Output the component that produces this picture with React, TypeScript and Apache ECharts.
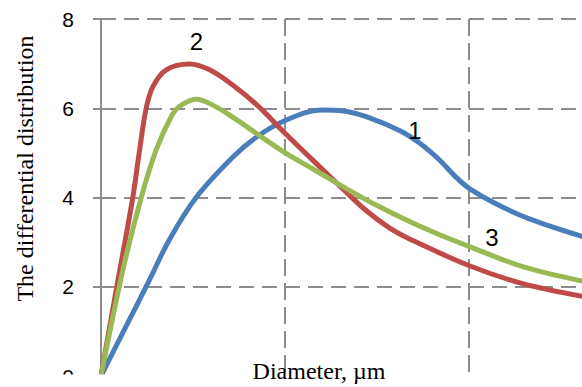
import React, { useEffect, useRef } from "react";
import * as echarts from "echarts";

// Diameter (arbitrary axis units; vertical grid lines every 10) and differential distribution
const diameter1 = [0, 1.3, 2.6, 3.73, 5.18, 7.17, 8.45, 9.99, 11.99, 13.2, 14.44, 16.25, 17.34, 18.43, 19.34, 20.06, 21.5, 23.33, 26.4];
const distribution1 = [0, 1.06, 2.12, 3.06, 4.0, 4.9, 5.35, 5.72, 5.96, 5.94, 5.81, 5.5, 5.22, 4.84, 4.45, 4.2, 3.86, 3.52, 3.1];

const diameter2 = [0, 0.86, 1.73, 2.1, 2.46, 2.82, 3.55, 4.82, 5.91, 7.17, 8.63, 9.99, 11.7, 13.2, 14.4, 15.7, 16.8, 20.06, 22.96, 26.4];
const distribution2 = [0, 2.0, 4.0, 5.06, 6.0, 6.48, 6.86, 6.99, 6.86, 6.52, 6.02, 5.45, 4.77, 4.18, 3.72, 3.32, 3.07, 2.47, 2.07, 1.77];

const diameter3 = [0, 1.19, 2.19, 3.0, 3.82, 4.27, 5.18, 6.09, 7.17, 8.45, 9.99, 11.7, 13.35, 14.98, 16.8, 18.4, 20.06, 22.96, 26.4];
const distribution3 = [0, 2.37, 4.0, 5.06, 5.81, 6.04, 6.2, 6.07, 5.8, 5.44, 5.01, 4.6, 4.2, 3.83, 3.46, 3.17, 2.9, 2.45, 2.11];

const yTicks = [0, 2, 4, 6, 8];
const seriesNames = ["1", "2", "3"];
const seriesColors = ["#4a7ebb", "#be4b48", "#98b954"];

const GRAY = "#8c8c8c";

export default function App() {
  const ref = useRef<HTMLDivElement>(null);
  useEffect(() => {
    const chart = echarts.init(ref.current!, null, { renderer: "svg" });
    const pairs = (xs: number[], ys: number[]) => xs.map((x, i) => [x, ys[i]]);
    const data = [pairs(diameter1, distribution1), pairs(diameter2, distribution2), pairs(diameter3, distribution3)];
    chart.setOption({
      animation: false,
      backgroundColor: "#ffffff",
      grid: { left: 101, top: 19, height: 357, width: 551, outerBoundsMode: "none" },
      xAxis: {
        type: "value",
        min: 0,
        max: 30,
        interval: 10,
        axisLine: { show: false },
        axisTick: { show: false },
        axisLabel: { show: false },
        splitLine: {
          show: true,
          showMinLine: false,
          lineStyle: { color: GRAY, width: 2, type: [17, 7] },
        },
      },
      yAxis: {
        type: "value",
        min: yTicks[0],
        max: yTicks[yTicks.length - 1],
        interval: 2,
        axisLine: { show: true, lineStyle: { color: GRAY, width: 2 } },
        axisTick: { show: true, length: 8, lineStyle: { color: GRAY, width: 2 } },
        axisLabel: {
          margin: 27,
          color: "#000",
          fontSize: 21,
          fontFamily: "Liberation Sans, Arial, sans-serif",
        },
        splitLine: {
          show: true,
          lineStyle: { color: GRAY, width: 2, type: [15, 8] },
        },
      },
      series: data.map((d, i) => ({
        name: seriesNames[i],
        type: "line",
        data: d,
        smooth: 0.35,
        showSymbol: false,
        symbol: "none",
        lineStyle: { color: seriesColors[i], width: 5 },
        itemStyle: { color: seriesColors[i] },
        z: 3 + i,
      })),
      graphic: [
        { type: "rect", z: 100, shape: { x: 0, y: 374.5, width: 700, height: 13 }, style: { fill: "#ffffff" } },
        {
          type: "text", z: 110, x: 319, y: 371,
          style: { text: "Diameter, \u00b5m", fill: "#000", font: "24px 'Liberation Serif', 'Times New Roman', serif", align: "center", verticalAlign: "middle" },
        },
        {
          type: "text", z: 110, x: 25, y: 168.5, rotation: Math.PI / 2,
          style: { text: "The differential distribution", fill: "#000", font: "24px 'Liberation Serif', 'Times New Roman', serif", align: "center", verticalAlign: "middle" },
        },
        {
          type: "text", z: 110, x: 415, y: 130,
          style: { text: seriesNames[0], fill: "#000", font: "24px 'Liberation Sans', Arial, sans-serif", align: "center", verticalAlign: "middle" },
        },
        {
          type: "text", z: 110, x: 196.5, y: 41,
          style: { text: seriesNames[1], fill: "#000", font: "24px 'Liberation Sans', Arial, sans-serif", align: "center", verticalAlign: "middle" },
        },
        {
          type: "text", z: 110, x: 492, y: 237,
          style: { text: seriesNames[2], fill: "#000", font: "24px 'Liberation Sans', Arial, sans-serif", align: "center", verticalAlign: "middle" },
        },
      ],
    });
    return () => chart.dispose();
  }, []);
  return (
    <div style={{ position: "fixed", left: 0, top: 0, width: 582, height: 387, overflow: "hidden", background: "#fff" }}>
      <div ref={ref} style={{ width: 700, height: 387 }} />
    </div>
  );
}
